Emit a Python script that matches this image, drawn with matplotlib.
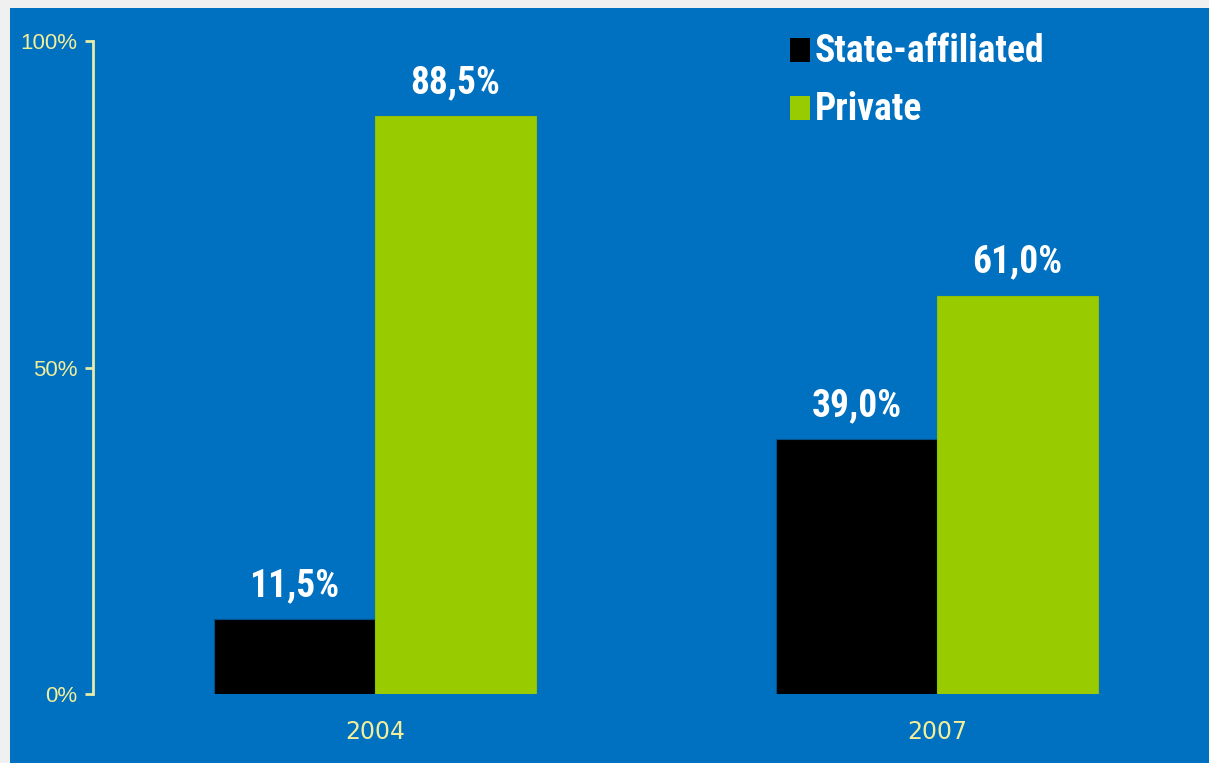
import matplotlib
matplotlib.use("Agg")
import matplotlib.pyplot as plt
from matplotlib import font_manager
from matplotlib.patches import Rectangle
import numpy as np

years = ["2004", "2007"]
state_affiliated = [11.5, 39.0]
private = [88.5, 61.0]
series_names = ["State-affiliated", "Private"]
series_colors = ["#000000", "#99CC00"]
y_ticks = [0, 50, 100]
y_tick_labels = ["0%", "50%", "100%"]

# pick a narrow bold font if available
def pick_font():
    fl = font_manager.fontManager.ttflist
    prefs = [("liberationsansnarrow-bold", 27), ("robotocondensed-bold", 27),
             ("roboto_condensed-bold", 27), ("notosans-condensedbold", 26.5),
             ("opensans-condensedbold", 26), ("opensanscondensed-bold", 26),
             ("dejavusanscondensed-bold", 22.5)]
    for key, size in prefs:
        for f in fl:
            base = f.fname.replace("\\", "/").split("/")[-1].lower()
            if base.startswith(key):
                return dict(fontproperties=font_manager.FontProperties(fname=f.fname, size=size))
    return dict(family="Liberation Sans", fontweight="bold", fontsize=22)

big_font = pick_font()

W, H = 1209, 763
fig = plt.figure(figsize=(W / 100, H / 100), dpi=100)
fig.patch.set_facecolor("#F0F0F0")
fig.patches.append(Rectangle((10 / W, 0), 1 - 10 / W, (H - 8) / H,
                             transform=fig.transFigure, facecolor="#0070C0",
                             edgecolor="none", zorder=-10))

ax = fig.add_axes([93 / W, (H - 694) / H, (W - 93) / W, (694 - 41) / H])
ax.set_zorder(1)
ax.patch.set_alpha(0)

x = np.arange(len(years))
bw = 0.287
tick_col = "#F2EE9A"
b1 = ax.bar(x - bw / 2, state_affiliated, bw, color=series_colors[0], edgecolor="#00508a", linewidth=0.8, zorder=3)
b2 = ax.bar(x + bw / 2, private, bw, color=series_colors[1], edgecolor="#8fbf00", linewidth=0.8, zorder=3)

for bars, vals in ((b1, state_affiliated), (b2, private)):
    for rect, v in zip(bars, vals):
        ax.annotate(f"{v:.1f}%".replace(".", ","),
                    (rect.get_x() + rect.get_width() / 2, v),
                    xytext=(0, 16.5), textcoords="offset points",
                    ha="center", va="baseline", color="white", **big_font)

ax.set_xlim(-0.5018, 1.484)
ax.set_ylim(0, 100)
ax.set_xticks(x)
ax.set_xticklabels(years, color=tick_col, fontsize=17, family="DejaVu Sans")
ax.tick_params(axis="x", length=0, pad=19)
ax.set_yticks(y_ticks)
ax.set_yticklabels(y_tick_labels, color=tick_col, fontsize=16, family="Liberation Sans")
ax.tick_params(axis="y", length=6, width=2, color="#E6EBAA", pad=5)
for s in ("top", "right", "bottom"):
    ax.spines[s].set_visible(False)
ax.spines["left"].set_color("#E6EBAA")
ax.spines["left"].set_linewidth(2)

# legend (manual placement, pixel based)
rows_y = [62, 120]
for name, col, yb in zip(series_names, series_colors, rows_y):
    fig.patches.append(Rectangle((790 / W, 1 - yb / H), 20 / W, 24 / H,
                                 transform=fig.transFigure, facecolor=col,
                                 edgecolor="none", zorder=5))
    fig.text(815 / W, 1 - yb / H, name, color="white", ha="left",
             va="baseline", zorder=5, **big_font)

fig.savefig("out.png", dpi=100, facecolor=fig.get_facecolor())
